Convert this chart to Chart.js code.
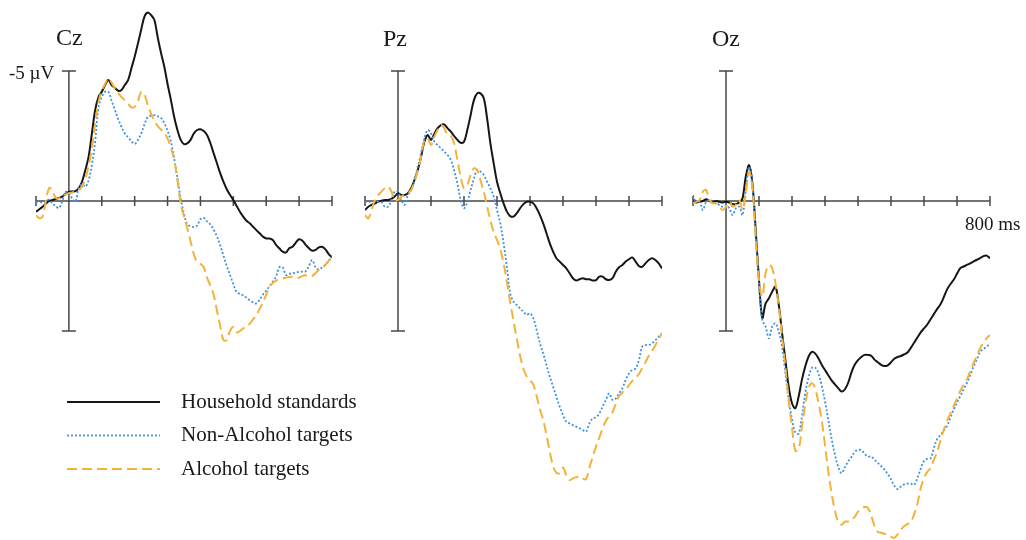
<!DOCTYPE html>
<html>
<head>
<meta charset="utf-8">
<script src="https://cdn.jsdelivr.net/npm/chart.js@4.4.1/dist/chart.umd.min.js"></script>
<style>
  html, body { margin: 0; padding: 0; background: #fff; }
  #wrap { position: relative; width: 1026px; height: 540px; }
  #wrap canvas { position: absolute; left: 0; top: 0; }
</style>
</head>
<body>
<div id="wrap">
  <canvas id="cz" width="1026" height="540"></canvas>
  <canvas id="pz" width="1026" height="540"></canvas>
  <canvas id="oz" width="1026" height="540"></canvas>
</div>
<script>
// time points (ms) and axis ticks
var times = [-100, -90, -80, -70, -60, -50, -40, -30, -20, -10,
  0, 10, 20, 30, 40, 50, 60, 70, 80, 90,
  100, 110, 120, 130, 140, 150, 160, 170, 180, 190,
  200, 210, 220, 230, 240, 250, 260, 270, 280, 290,
  300, 310, 320, 330, 340, 350, 360, 370, 380, 390,
  400, 410, 420, 430, 440, 450, 460, 470, 480, 490,
  500, 510, 520, 530, 540, 550, 560, 570, 580, 590,
  600, 610, 620, 630, 640, 650, 660, 670, 680, 690,
  700, 710, 720, 730, 740, 750, 760, 770, 780, 790, 800];
var tickTimes = [-100, 0, 100, 200, 300, 400, 500, 600, 700, 800];
var ampRange = [-5, 5];
var seriesNames = ["Household standards", "Non-Alcohol targets", "Alcohol targets"];

// amplitudes in µV (negative is plotted up)
var czStandards = [0.41, 0.32, 0.22, 0.1, 0.0, -0.04, -0.08, -0.12, -0.17, -0.28,
  -0.36, -0.37, -0.38, -0.5, -0.74, -1.19, -1.7, -2.6, -3.5, -4.0,
  -4.2, -4.46, -4.65, -4.46, -4.35, -4.24, -4.27, -4.46, -4.65, -5.1,
  -5.55, -6.06, -6.6, -7.1, -7.25, -7.15, -6.96, -6.3, -5.7, -5.17,
  -4.5, -3.9, -3.24, -2.73, -2.35, -2.19, -2.22, -2.35, -2.6, -2.73,
  -2.76, -2.69, -2.54, -2.23, -1.84, -1.46, -1.07, -0.74, -0.45, -0.23,
  -0.04, 0.19, 0.41, 0.6, 0.76, 0.86, 0.99, 1.12, 1.24, 1.37,
  1.44, 1.44, 1.5, 1.69, 1.82, 1.95, 1.98, 1.82, 1.76, 1.6,
  1.47, 1.53, 1.69, 1.82, 1.91, 1.88, 1.78, 1.76, 1.86, 2.04, 2.17];
var czNonAlcohol = [0.03, 0.03, 0.05, 0.0, -0.05, 0.1, 0.2, 0.27, 0.0, -0.35,
  -0.3, -0.1, 0.03, -0.5, -0.65, -0.55, -0.8, -1.4, -2.3, -3.6,
  -4.0, -4.2, -4.2, -3.85, -3.5, -3.15, -2.85, -2.6, -2.45, -2.3,
  -2.19, -2.35, -2.6, -2.95, -3.24, -3.28, -3.3, -3.26, -3.2, -3.0,
  -2.7, -2.3, -1.65, -0.9, -0.1, 0.5, 0.9, 0.97, 1.0, 0.95,
  0.7, 0.65, 0.78, 0.9, 1.1, 1.35, 1.7, 2.1, 2.5, 2.85,
  3.2, 3.5, 3.58, 3.63, 3.72, 3.82, 3.9, 3.94, 3.8, 3.6,
  3.45, 3.28, 3.1, 2.9, 2.55, 2.55, 2.85, 2.8, 2.78, 2.75,
  2.72, 2.72, 2.7, 2.5, 2.27, 2.55, 2.63, 2.55, 2.45, 2.3, 2.14];
var czAlcohol = [0.55, 0.66, 0.6, 0.0, -0.5, -0.4, -0.12, -0.1, -0.17, -0.25,
  -0.3, -0.33, -0.37, -0.42, -0.55, -0.85, -1.35, -2.05, -3.0, -3.8,
  -4.25, -4.5, -4.72, -4.55, -4.33, -4.15, -4.0, -3.88, -3.75, -3.6,
  -3.62, -3.85, -4.2, -4.08, -3.7, -3.35, -3.08, -2.88, -2.75, -2.62,
  -2.4, -2.05, -1.6, -0.8, 0.1, 0.6, 1.05, 1.55, 2.05, 2.35,
  2.42, 2.55, 2.95, 3.25, 3.6, 4.2, 4.8, 5.35, 5.35, 5.0,
  4.85, 5.05, 5.0, 4.9, 4.85, 4.72, 4.55, 4.4, 4.15, 3.9,
  3.6, 3.3, 3.15, 3.06, 3.02, 2.98, 2.95, 2.92, 2.92, 2.95,
  2.95, 2.88, 2.86, 2.9, 2.88, 2.77, 2.65, 2.57, 2.45, 2.3, 2.17];

var pzStandards = [0.35, 0.22, 0.15, 0.1, 0.03, -0.01, -0.04, -0.04, -0.08, -0.17,
  -0.3, -0.23, -0.23, -0.3, -0.49, -0.81, -1.19, -1.7, -2.28, -2.54,
  -2.35, -2.58, -2.8, -2.92, -2.95, -2.8, -2.67, -2.5, -2.35, -2.24,
  -2.28, -2.73, -3.3, -3.88, -4.14, -4.14, -3.95, -3.18, -2.22, -1.45,
  -0.74, -0.3, 0.09, 0.41, 0.58, 0.6, 0.47, 0.28, 0.12, 0.03,
  0.03, 0.09, 0.28, 0.54, 0.86, 1.24, 1.63, 1.95, 2.2, 2.33,
  2.46, 2.59, 2.78, 2.97, 3.06, 3.01, 2.97, 3.01, 3.01, 3.06,
  3.04, 2.91, 2.91, 3.01, 3.04, 2.97, 2.72, 2.55, 2.46, 2.33,
  2.24, 2.17, 2.33, 2.5, 2.53, 2.4, 2.27, 2.2, 2.27, 2.4, 2.59];
var pzNonAlcohol = [0.03, 0.02, 0.03, 0.03, 0.03, 0.05, 0.22, 0.22, -0.04, -0.36,
  -0.36, -0.04, 0.15, -0.23, -0.42, -0.81, -1.32, -1.83, -2.41, -2.73,
  -2.6, -2.28, -2.15, -2.03, -1.9, -1.77, -1.58, -1.19, -0.68, -0.04,
  0.28, 0.03, -0.42, -0.87, -1.19, -1.13, -1.0, -0.74, -0.49, -0.17,
  0.35, 0.86, 1.63, 2.53, 3.55, 3.87, 4.0, 4.13, 4.26, 4.38,
  4.32, 4.51, 4.96, 5.47, 5.86, 6.31, 6.76, 7.14, 7.53, 7.91,
  8.23, 8.49, 8.55, 8.62, 8.68, 8.74, 8.81, 8.87, 8.55, 8.36,
  8.32, 8.17, 7.91, 7.65, 7.4, 7.65, 7.6, 7.4, 7.2, 6.88,
  6.63, 6.5, 6.44, 6.12, 5.6, 5.54, 5.54, 5.47, 5.35, 5.22, 5.09];
var pzAlcohol = [0.54, 0.67, 0.35, -0.04, -0.23, -0.36, -0.49, -0.55, -0.36, -0.04,
  -0.04, -0.17, -0.23, -0.3, -0.42, -0.74, -1.19, -1.7, -2.35, -2.41,
  -2.15, -2.47, -2.73, -2.92, -2.8, -2.54, -2.5, -2.22, -1.58, -0.93,
  -0.49, -0.62, -1.0, -1.26, -1.19, -0.8, -0.35, 0.2, 0.75, 1.2,
  1.5, 1.85, 2.4, 3.1, 3.9, 4.6, 5.3, 5.95, 6.45, 6.75,
  6.9, 7.05, 7.5, 8.0, 8.42, 9.0, 9.65, 10.2, 10.45, 10.47,
  10.25, 10.55, 10.73, 10.67, 10.62, 10.6, 10.68, 10.7, 10.25, 9.85,
  9.45, 9.1, 8.75, 8.45, 8.28, 8.12, 7.8, 7.5, 7.37, 7.25,
  7.08, 6.92, 6.8, 6.65, 6.43, 6.2, 5.95, 5.76, 5.55, 5.3, 5.09];

var ozStandards = [-0.04, 0.03, 0.03, 0.0, -0.07, 0.0, 0.03, 0.0, 0.03, 0.06,
  0.03, 0.06, 0.12, 0.12, 0.06, -0.1, -0.94, -1.38, -0.68, 1.12,
  3.04, 4.5, 3.94, 3.74, 3.49, 3.3, 4.0, 5.09, 6.12, 7.14,
  7.78, 7.97, 7.53, 6.88, 6.37, 5.99, 5.8, 5.86, 6.05, 6.3,
  6.5, 6.7, 6.9, 7.05, 7.2, 7.33, 7.25, 7.0, 6.6, 6.3,
  6.12, 6.0, 5.92, 5.92, 5.95, 6.1, 6.2, 6.3, 6.35, 6.32,
  6.2, 6.07, 6.0, 5.96, 5.9, 5.83, 5.65, 5.45, 5.25, 5.05,
  4.9, 4.75, 4.55, 4.35, 4.15, 3.97, 3.7, 3.4, 3.2, 3.03,
  2.8, 2.58, 2.52, 2.46, 2.4, 2.33, 2.26, 2.2, 2.12, 2.1, 2.2];
var ozNonAlcohol = [-0.23, 0.09, 0.03, 0.35, 0.03, -0.04, 0.03, 0.09, 0.15, 0.22,
  0.15, 0.28, 0.54, 0.28, 0.22, 0.54, -0.42, -1.32, -0.55, 1.37,
  3.17, 4.58, 4.83, 5.28, 4.83, 4.7, 5.03, 5.6, 6.63, 7.65,
  8.4, 8.9, 8.95, 8.3, 7.4, 6.8, 6.42, 6.4, 6.63, 7.1,
  7.7, 8.42, 9.15, 9.75, 10.22, 10.47, 10.25, 10.02, 9.85, 9.65,
  9.58, 9.58, 9.72, 9.83, 9.83, 9.95, 10.07, 10.2, 10.33, 10.5,
  10.7, 10.95, 11.08, 10.98, 10.9, 10.87, 10.87, 10.92, 10.65, 10.3,
  10.0, 9.92, 9.9, 9.5, 9.15, 9.0, 8.82, 8.65, 8.33, 8.02,
  7.75, 7.5, 7.25, 7.0, 6.7, 6.37, 6.1, 5.8, 5.7, 5.6, 5.47];
var ozAlcohol = [0.09, 0.03, -0.04, -0.36, -0.42, -0.04, 0.09, 0.09, 0.22, 0.35,
  0.22, 0.03, 0.22, 0.15, -0.04, 0.35, -0.3, -1.13, -0.55, 1.37,
  3.04, 3.68, 2.78, 2.46, 2.59, 3.17, 4.06, 5.22, 6.37, 7.65,
  8.7, 9.6, 9.55, 8.7, 7.85, 7.2, 7.01, 7.2, 7.75, 8.42,
  9.4, 10.4, 11.24, 11.9, 12.35, 12.45, 12.33, 12.33, 12.28, 12.15,
  11.95, 11.85, 11.77, 11.8, 12.1, 12.5, 12.73, 12.76, 12.8, 12.84,
  12.92, 12.95, 12.82, 12.65, 12.5, 12.43, 12.35, 12.05, 11.65, 11.05,
  10.65, 10.42, 10.27, 9.95, 9.65, 9.2, 8.8, 8.45, 8.17, 7.88,
  7.6, 7.3, 7.08, 6.86, 6.55, 6.24, 5.95, 5.67, 5.45, 5.28, 5.15];

var serif = '"Liberation Serif", "Times New Roman", serif';
var lineStyles = [
  { color: '#161616', width: 2, dash: [] },
  { color: '#3f91e6', width: 1.8, dash: [2, 2] },
  { color: '#f3b33a', width: 2, dash: [10, 5] }
];

// axes, labels and legend drawn against the chart scales
var erpAxes = {
  id: 'erpAxes',
  beforeDatasetsDraw: function (chart) {
    var ctx = chart.ctx, x = chart.scales.x, y = chart.scales.y;
    var y0 = y.getPixelForValue(0);
    var xz = x.getPixelForValue(0);
    var yTop = y.getPixelForValue(ampRange[0]);
    var yBot = y.getPixelForValue(ampRange[1]);
    ctx.save();
    ctx.strokeStyle = '#474747';
    ctx.lineWidth = 1.5;
    ctx.beginPath();
    ctx.moveTo(x.getPixelForValue(tickTimes[0]), y0);
    ctx.lineTo(x.getPixelForValue(tickTimes[tickTimes.length - 1]), y0);
    tickTimes.forEach(function (t) {
      var px = x.getPixelForValue(t);
      ctx.moveTo(px, y0 - 5);
      ctx.lineTo(px, y0 + 5);
    });
    ctx.moveTo(xz, yTop); ctx.lineTo(xz, yBot);
    ctx.moveTo(xz - 7, yTop); ctx.lineTo(xz + 7, yTop);
    ctx.moveTo(xz - 7, yBot); ctx.lineTo(xz + 7, yBot);
    ctx.stroke();
    ctx.restore();
  },
  afterDraw: function (chart, args, opts) {
    var ctx = chart.ctx;
    ctx.save();
    ctx.fillStyle = '#1a1a1a';
    ctx.textBaseline = 'alphabetic';
    (opts.texts || []).forEach(function (t) {
      ctx.font = t.size + 'px ' + serif;
      ctx.fillText(t.text, t.x, t.y);
    });
    if (opts.legend) {
      var lg = opts.legend;
      seriesNames.forEach(function (name, i) {
        var ly = lg.y + i * lg.step;
        var st = lineStyles[i];
        ctx.strokeStyle = st.color;
        ctx.lineWidth = st.width;
        ctx.setLineDash(st.dash);
        ctx.beginPath();
        ctx.moveTo(lg.x, ly);
        ctx.lineTo(lg.x + lg.len, ly);
        ctx.stroke();
        ctx.setLineDash([]);
        ctx.font = lg.size + 'px ' + serif;
        ctx.textBaseline = 'middle';
        ctx.fillText(name, lg.x + lg.len + 21, ly);
      });
    }
    ctx.restore();
  }
};

function makePanel(id, left, right, series, texts, legend) {
  var order = [2, 1, 0];
  var datasets = order.map(function (i) {
    var st = lineStyles[i];
    return {
      label: seriesNames[i],
      data: times.map(function (t, k) { return { x: t, y: series[i][k] }; }),
      borderColor: st.color,
      borderWidth: st.width,
      borderDash: st.dash,
      pointRadius: 0,
      tension: 0.35,
      fill: false
    };
  });
  return new Chart(document.getElementById(id), {
    type: 'line',
    data: { datasets: datasets },
    plugins: [erpAxes],
    options: {
      responsive: false,
      animation: false,
      devicePixelRatio: 1,
      layout: { padding: { left: left, right: 1026 - right, top: 0, bottom: 0 } },
      scales: {
        x: { type: 'linear', min: -100, max: 800, display: false },
        y: { type: 'linear', min: -201 / 26, max: 339 / 26, reverse: true, display: false }
      },
      plugins: {
        legend: { display: false },
        tooltip: { enabled: false },
        erpAxes: { texts: texts, legend: legend }
      }
    }
  });
}

makePanel('cz', 36, 332, [czStandards, czNonAlcohol, czAlcohol],
  [{ text: 'Cz', x: 56, y: 45, size: 24 }, { text: '-5 \u00b5V', x: 9, y: 79, size: 19 }],
  { x: 67, y: 402, step: 33.5, len: 93, size: 21 });
makePanel('pz', 365, 662, [pzStandards, pzNonAlcohol, pzAlcohol],
  [{ text: 'Pz', x: 383, y: 46, size: 24 }], null);
makePanel('oz', 693, 990, [ozStandards, ozNonAlcohol, ozAlcohol],
  [{ text: 'Oz', x: 712, y: 46, size: 24 }, { text: '800 ms', x: 965, y: 230, size: 19 }], null);
</script>
</body>
</html>
